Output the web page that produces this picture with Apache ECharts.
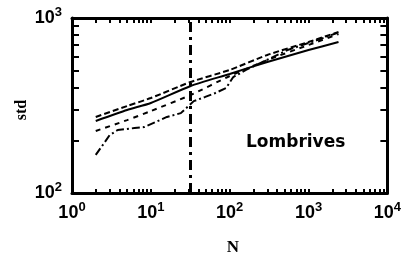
<!DOCTYPE html>
<html>
<head>
<meta charset="utf-8">
<script src="https://cdn.jsdelivr.net/npm/echarts@6/dist/echarts.min.js"></script>
<style>
    html, body { margin: 0; padding: 0; background: #fff; }
    #chart { width: 404px; height: 267px; }
</style>
</head>
<body>
<div id="chart"></div>
<script>
// data
var nPair = [2, 5, 10, 32, 100, 300, 1000, 2400];
var stdUpper = [272, 314, 349, 431, 505, 615, 729, 832];
var stdLower = [258, 298, 327, 409, 479, 561, 656, 729];
var stdMid = [226, 261, 294, 363, 466, 575, 701, 810];

var nJag = [2, 2.6, 3, 3.8, 6.2, 8.2, 11.6, 16, 24, 35, 49, 66, 90, 111, 161, 263, 542, 1290, 2300];
var stdJag = [165, 195, 214, 229, 235, 238, 255, 272, 286, 335, 354, 373, 398, 460, 505, 561, 656, 748, 821];

var cutN = 32;
var xLabels = [1, 10, 100, 1000, 10000];
var yLabels = [100, 1000];

var xMin = 1, xMax = 10000, yMin = 100, yMax = 1000;

// 2,...,9,10,20,... inside the range
function minorList(lo, hi) {
    var arr = [];
    for (var d = lo; d < hi; d *= 10) {
        for (var k = 1; k < 10; k++) {
            if (d * k > lo) arr.push(d * k);
        }
    }
    return arr;
}

function pair(xs, ys) {
    var arr = [];
    for (var i = 0; i < xs.length; i++) {
        arr.push([xs[i], ys[i]]);
    }
    return arr;
}

function powLabel(v) {
    return '{b|10}{s|' + Math.round(Math.log10(v)) + '}';
}

var labelRich = {
    b: { fontFamily: 'Liberation Sans', fontWeight: 'bold', fontSize: 18, color: '#000' },
    s: { fontFamily: 'Liberation Sans', fontWeight: 'bold', fontSize: 13, color: '#000', verticalAlign: 'bottom', padding: [0, 0, 11, 0] }
};

// ticks point inward; split lines left on but see-through
function frameAxis(pos, lo, hi, tickLen, labels) {
    return {
        type: 'log',
        position: pos,
        min: lo,
        max: hi,
        axisLine: { lineStyle: { color: '#000', width: 3 } },
        axisTick: { inside: true, length: tickLen, customValues: minorList(lo, hi), lineStyle: { color: '#000', width: 2 } },
        axisLabel: labels ? { customValues: labels, margin: pos === 'left' ? 10 : 8, formatter: powLabel, rich: labelRich } : { show: false },
        splitLine: { show: true, lineStyle: { color: 'rgba(255,255,255,0.01)' } }
    };
}

var myChart = echarts.init(document.getElementById('chart'));

var option = {
    animation: false,
    grid: { left: 72, right: 13, top: 18, bottom: 74 },
    xAxis: [frameAxis('bottom', xMin, xMax, 4, xLabels), frameAxis('top', xMin, xMax, 5, null)],
    yAxis: [frameAxis('left', yMin, yMax, 7, yLabels), frameAxis('right', yMin, yMax, 7, null)],
    graphic: [{
        type: 'text',
        x: 233,
        y: 248,
        style: { text: 'N', fontFamily: 'Liberation Serif', fontWeight: 'bold', fontSize: 17, fill: '#000', align: 'center', verticalAlign: 'middle' }
    }, {
        type: 'text',
        x: 22,
        y: 110,
        rotation: Math.PI / 2,
        style: { text: 'std', fontFamily: 'Liberation Serif', fontWeight: 'bold', fontSize: 16, fill: '#000', align: 'center', verticalAlign: 'middle' }
    }, {
        type: 'text',
        x: 246,
        y: 143,
        style: { text: 'Lombrives', fontFamily: 'DejaVu Sans', fontWeight: 'bold', fontSize: 17, fill: '#000', align: 'left', verticalAlign: 'middle' }
    }],
    series: [{
        name: 'upper',
        type: 'line',
        showSymbol: false,
        smooth: 0.2,
        lineStyle: { color: '#000', width: 2, type: [6, 3] },
        data: pair(nPair, stdUpper)
    }, {
        name: 'lower',
        type: 'line',
        showSymbol: false,
        smooth: 0.2,
        lineStyle: { color: '#000', width: 2 },
        data: pair(nPair, stdLower)
    }, {
        name: 'mid',
        type: 'line',
        showSymbol: false,
        smooth: 0.2,
        lineStyle: { color: '#000', width: 2, type: [5, 5] },
        data: pair(nPair, stdMid)
    }, {
        name: 'jag',
        type: 'line',
        showSymbol: false,
        lineStyle: { color: '#000', width: 2, type: [8, 3, 2, 3] },
        data: pair(nJag, stdJag),
        markLine: {
            silent: true,
            symbol: 'none',
            label: { show: false },
            lineStyle: { color: '#000', width: 3, type: [10, 5, 3, 5] },
            data: [{ xAxis: cutN }]
        }
    }]
};

myChart.setOption(option);
</script>
</body>
</html>
